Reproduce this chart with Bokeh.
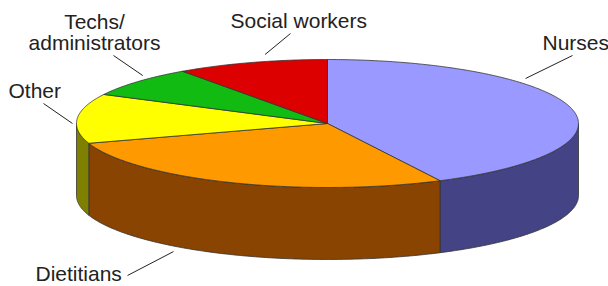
import numpy as np
from bokeh.plotting import figure
from bokeh.models import Range1d, ColumnDataSource
from bokeh.core.properties import value
from bokeh.embed import file_html
from bokeh.resources import INLINE

# ---- data (shares, in percent) ----
categories = ["Nurses", "Dietitians", "Other", "Techs/administrators", "Social workers"]
shares = [42.6, 27.4, 12.5, 7.7, 9.8]
top_colors = ["#9999FF", "#FF9900", "#FFFF00", "#11BB11", "#DD0000"]
side_colors = ["#434386", "#884400", "#808000", "#0A660A", "#770000"]

# ---- layout ----
CX, CY, RA, RB, DEPTH = 327, 123, 251, 64, 72
FONT = "Liberation Sans"
FONT_SIZE = "21px"
TEXT_COLOR = "#222222"
EDGE = "#333333"
TEXT_DY = -8  # renderer places the alphabetic baseline lower than asked

# label lines: (text, x, y, align) ; leader: (theta, r, dz, x_out, y_out)
label_lines = {
    "Nurses": [("Nurses", 542, 50, "left")],
    "Dietitians": [("Dietitians", 35, 281, "left")],
    "Other": [("Other", 8, 98, "left")],
    "Techs/administrators": [("Techs/", 94, 29, "center"), ("administrators", 94, 50, "center")],
    "Social workers": [("Social workers", 230, 28, "left")],
}
leaders = {
    "Nurses": (48.3, 1.057, 0, 572, 55),
    "Dietitians": (215, 1.07, DEPTH, 127, 275),
    "Other": (270, 1.016, 0, 43, 103),
    "Techs/administrators": (315.5, 1.05, 0, 113, 55),
    "Social workers": (347, 1.106, 0, 290, 33),
}


def pts(t0, t1, r=1.0, dz=0.0, n=None):
    if n is None:
        n = max(2, int(abs(t1 - t0) * 2) + 2)
    t = np.radians(np.linspace(t0, t1, n))
    return CX + r * RA * np.sin(t), CY - r * RB * np.cos(t) + dz


p = figure(width=608, height=286, x_range=Range1d(0, 608), y_range=Range1d(286, 0),
           output_backend="svg", toolbar_location=None, min_border=0)
p.xaxis.visible = False
p.yaxis.visible = False
p.grid.visible = False
p.outline_line_color = None
p.background_fill_color = "white"
p.border_fill_color = "white"

total = float(sum(shares))
bounds = np.concatenate([[0.0], np.cumsum(shares) / total * 360.0])

# side faces (front half only: 90..270 deg clockwise from top)
sx, sy, sc = [], [], []
for i in range(len(shares)):
    lo, hi = max(bounds[i], 90.0), min(bounds[i + 1], 270.0)
    if lo < hi:
        tx, ty = pts(lo, hi)
        bx, by = pts(hi, lo, dz=DEPTH)
        sx.append(list(np.concatenate([tx, bx])))
        sy.append(list(np.concatenate([ty, by])))
        sc.append(side_colors[i])
p.patches(xs=sx, ys=sy, fill_color=sc, line_color=EDGE, line_width=0.8)

# top faces
xs, ys = [], []
for i in range(len(shares)):
    ax, ay = pts(bounds[i], bounds[i + 1])
    xs.append([CX] + list(ax))
    ys.append([CY] + list(ay))
p.patches(xs=xs, ys=ys, fill_color=top_colors, line_color=EDGE, line_width=0.8)

# leader lines
lx0, ly0, lx1, ly1 = [], [], [], []
for c in categories:
    th, r, dz, xo, yo = leaders[c]
    x0, y0 = pts(th, th, r=r, dz=dz, n=1)
    lx0.append(float(x0[0])); ly0.append(float(y0[0]))
    lx1.append(xo); ly1.append(yo)
p.segment(x0=lx0, y0=ly0, x1=lx1, y1=ly1, line_color="#222222", line_width=1)

# labels
for align in ["left", "right", "center"]:
    tx, ty, tt = [], [], []
    for c in categories:
        for (t, x, y, a) in label_lines[c]:
            if a == align:
                tx.append(x); ty.append(y + TEXT_DY); tt.append(t)
    if tt:
        src = ColumnDataSource(dict(x=tx, y=ty, text=tt))
        p.text(x="x", y="y", text="text", source=src, text_align=align,
               text_baseline="alphabetic", text_font=value(FONT),
               text_font_size=FONT_SIZE, text_color=TEXT_COLOR)

open("out.html", "w").write(file_html(p, INLINE))
